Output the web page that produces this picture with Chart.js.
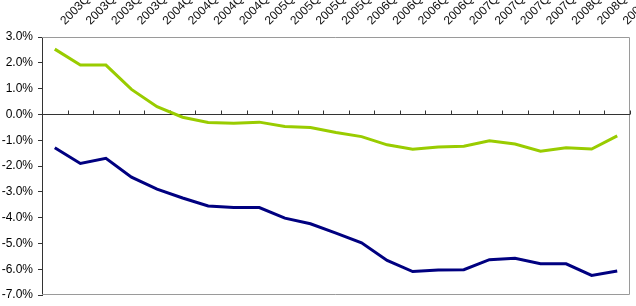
<!DOCTYPE html>
<html>
<head>
<meta charset="utf-8">
<script src="https://cdn.jsdelivr.net/npm/chart.js@4"></script>
<style>
  html, body { margin: 0; padding: 0; background: #fff; }
  #c { display: block; }
</style>
</head>
<body>
<canvas id="c" width="636" height="306"></canvas>
<script>
const categories = ['2003Q1','2003Q2','2003Q3','2003Q4','2004Q1','2004Q2','2004Q3','2004Q4',
  '2005Q1','2005Q2','2005Q3','2005Q4','2006Q1','2006Q2','2006Q3','2006Q4',
  '2007Q1','2007Q2','2007Q3','2007Q4','2008Q1','2008Q2','2008Q3'];
const greenSeries = [2.53, 1.91, 1.91, 0.97, 0.30, -0.11, -0.31, -0.34, -0.30, -0.47, -0.51, -0.70,
  -0.86, -1.18, -1.35, -1.26, -1.23, -1.02, -1.15, -1.43, -1.29, -1.34, -0.83];
const blueSeries = [-1.29, -1.90, -1.70, -2.43, -2.90, -3.24, -3.55, -3.61, -3.61, -4.02, -4.24, -4.60,
  -4.98, -5.66, -6.09, -6.03, -6.02, -5.63, -5.58, -5.79, -5.79, -6.24, -6.07];
const yTicks = [3, 2, 1, 0, -1, -2, -3, -4, -5, -6, -7];

const framePlugin = {
  id: 'frame',
  beforeDatasetsDraw(chart) {
    const {ctx, chartArea: a, scales} = chart;
    ctx.save();
    ctx.strokeStyle = '#9a9a9a';
    ctx.lineWidth = 1;
    ctx.beginPath();
    ctx.moveTo(a.left, a.top + 0.5);
    ctx.lineTo(a.right - 0.5, a.top + 0.5);
    ctx.lineTo(a.right - 0.5, a.bottom - 0.5);
    ctx.lineTo(a.left, a.bottom - 0.5);
    ctx.stroke();
    const y0 = Math.round(scales.y.getPixelForValue(0)) + 0.5;
    ctx.strokeStyle = '#333333';
    ctx.beginPath();
    ctx.moveTo(a.left, y0);
    ctx.lineTo(a.right, y0);
    const xs = scales.x;
    for (let i = 0; i <= categories.length; i++) {
      let px;
      if (i === 0) px = xs.getPixelForTick(0) - (xs.getPixelForTick(1) - xs.getPixelForTick(0)) / 2;
      else if (i === categories.length) px = a.right;
      else px = (xs.getPixelForTick(i - 1) + xs.getPixelForTick(i)) / 2;
      px = Math.round(px) + 0.5;
      ctx.moveTo(px, y0);
      ctx.lineTo(px, y0 - 4);
    }
    ctx.stroke();
    ctx.restore();
  }
};

new Chart(document.getElementById('c'), {
  type: 'line',
  data: {
    labels: categories,
    datasets: [
      { data: greenSeries, borderColor: '#99CC00', borderWidth: 3, pointRadius: 0, tension: 0, fill: false },
      { data: blueSeries, borderColor: '#000080', borderWidth: 3, pointRadius: 0, tension: 0, fill: false }
    ]
  },
  options: {
    responsive: false,
    animation: false,
    layout: { padding: { left: 0, right: 6, top: 0, bottom: 11 } },
    plugins: { legend: { display: false }, tooltip: { enabled: false } },
    scales: {
      x: {
        position: 'top',
        offset: true,
        grid: { display: false, drawTicks: false },
        border: { display: false },
        ticks: {
          autoSkip: false, maxRotation: 45, minRotation: 45, padding: 9, labelOffset: 18,
          color: '#111', font: { family: 'Liberation Sans, Arial', size: 12 }
        },
        afterFit(s) { s.height = 37; s.paddingLeft = 0; s.paddingRight = 0; }
      },
      y: {
        min: -7, max: 3,
        afterBuildTicks(s) { s.ticks = yTicks.map(v => ({ value: v })); },
        grid: { display: true, drawOnChartArea: false, drawTicks: true, tickLength: 4, color: '#333' },
        border: { display: true, color: '#333', width: 1 },
        ticks: {
          padding: 5, color: '#000', font: { family: 'Liberation Sans, Arial', size: 12 },
          callback: v => v.toFixed(1) + '%'
        },
        afterFit(s) { s.width = 42; s.paddingTop = 0; s.paddingBottom = 0; }
      }
    }
  },
  plugins: [framePlugin]
});
</script>
</body>
</html>
